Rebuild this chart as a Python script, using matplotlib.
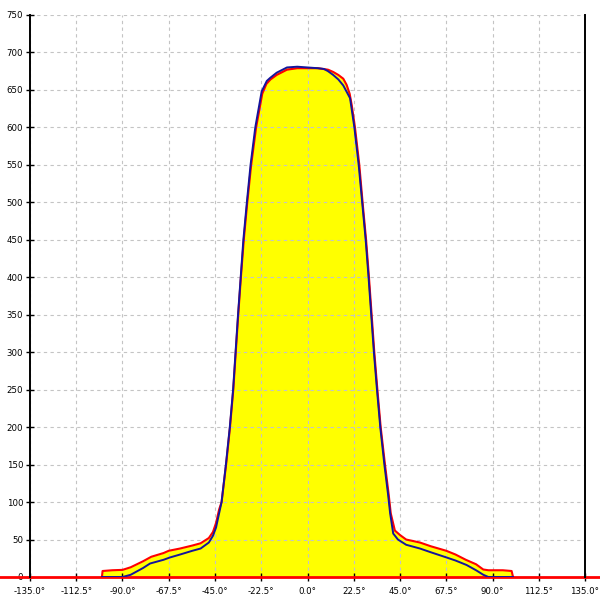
import numpy as np
import matplotlib
matplotlib.use("Agg")
from matplotlib import pyplot as plt

# ------------------------- Data --------------------------

red_deg = [-100.0, -99.7, -95, -90, -86, -80, -76, -70, -67.5, -62, -56, -52, -48, -46,
           -44.5, -43, -41.8, -39.6, -37.7, -36.1, -34.9, -33.7, -32.4, -31.0, -29.3,
           -27.4, -25.0, -22.0, -20, -18, -15, -10, -5, 0, 5, 10, 12.5, 15, 17.4, 19,
           20.5, 21.5, 23.1, 25.2, 26.8, 28.5, 29.9, 31.2, 32.5, 34.0, 35.6, 37.7,
           39.5, 40.5, 42.5, 45, 48, 54.7, 60, 67.5, 72, 77, 82, 85.5, 88, 95, 99.3, 100]
red_val = [0, 8, 9, 9.5, 13, 21, 27, 32, 35, 38, 42, 45, 52, 60,
           72, 90, 100, 150, 200, 250, 300, 350, 400, 450, 500,
           550, 600, 645, 658, 664, 670, 677, 679, 679, 679, 677, 674, 670, 665, 657,
           645, 630, 600, 550, 500, 450, 400, 350, 300, 250, 200, 150,
           110, 85, 62, 56, 50, 46, 41, 35, 30, 23, 17, 10, 9, 9, 8, 0]

blue_deg = [-100, -90, -86, -80, -76.6, -70, -67, -62, -56, -52, -48, -46, -44.5, -43,
            -41.8, -39.7, -37.8, -36.2, -35.0, -33.8, -32.5, -31.2, -29.5, -27.7, -25.4,
            -22.3, -19.8, -18.2, -15, -10, -5, 0, 5, 8, 10, 12.5, 15, 17.4, 20.7, 22.8,
            24.9, 26.6, 28.3, 29.7, 31.0, 32.3, 33.8, 35.4, 37.4, 39.2, 40.2, 41.7, 44,
            48, 54.7, 60, 67.7, 72, 77.4, 82, 85.5, 88, 100]
blue_val = [0, 0, 3, 12, 18, 23, 26, 30, 35, 38, 46, 55, 66, 85,
            100, 150, 200, 250, 300, 350, 400, 450, 500, 550, 600,
            648, 662, 666, 673, 680, 681, 680, 679, 678, 675, 670, 664, 656, 639, 600,
            550, 500, 450, 400, 350, 300, 250, 200, 150, 110, 85, 58, 50,
            43, 38, 33, 26, 22, 16, 9, 3, 0, 0]

x_ticks = np.arange(-135, 135.1, 22.5)
y_ticks = np.arange(0, 751, 50)

# ------------------------- Plot --------------------------

fig = plt.figure(figsize=(6, 6), dpi=100)
ax = fig.add_axes([30 / 600, 23 / 600, 555 / 600, 562 / 600])

ax.fill_between(red_deg, red_val, 0, color="#ffff00", lw=0, zorder=1)
ax.fill_between(blue_deg, blue_val, 0, color="#ffff00", lw=0, zorder=1)

ax.axhline(0, xmin=-0.06, xmax=1.03, color="#ff0000", lw=2.0, clip_on=False, zorder=2)
ax.plot(red_deg, red_val, color="#ff0000", lw=1.5, zorder=3)
ax.plot(blue_deg, blue_val, color="#14149c", lw=1.4, zorder=4)

ax.set_xlim(-135, 135)
ax.set_ylim(0, 750)
ax.set_xticks(x_ticks)
ax.set_xticklabels(["%.1f°" % v for v in x_ticks])
ax.set_yticks(y_ticks)
ax.set_yticklabels(["%d" % v for v in y_ticks])

ax.grid(True, color="#c4c4c4", linestyle=(0, (3, 3)), linewidth=0.8)
ax.spines["top"].set_visible(False)
ax.spines["bottom"].set_visible(False)
ax.spines["left"].set_linewidth(1.4)
ax.spines["right"].set_linewidth(1.4)
ax.tick_params(direction="inout", length=6, width=1, labelsize=6.2, pad=2)
ax.tick_params(axis="x", pad=4)
for lbl in ax.get_xticklabels() + ax.get_yticklabels():
    lbl.set_fontfamily("DejaVu Sans")

fig.savefig("out.png", dpi=100)
